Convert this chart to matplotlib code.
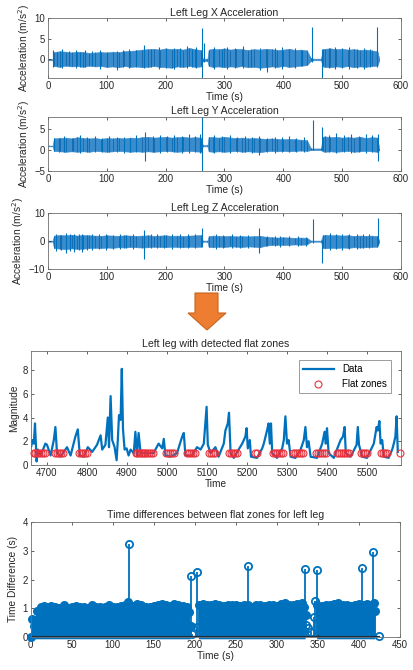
import numpy as np
import matplotlib
matplotlib.use("Agg")
import matplotlib.pyplot as plt
from matplotlib.patches import Polygon

# ---------------- data ----------------
# accelerometer envelopes (top three panels), time in s
acc_t = [0, 8, 10, 20, 30, 40, 50, 60, 70, 80, 90, 100, 110, 120, 130, 140, 150, 160,
         170, 180, 190, 200, 210, 220, 230, 240, 250, 260, 263, 271, 273, 280, 290, 300,
         310, 320, 330, 340, 350, 360, 370, 380, 390, 400, 410, 420, 430, 440, 447, 451,
         464, 467, 470, 480, 490, 500, 510, 520, 530, 540, 550, 560, 563]

x_hi = [0.1, 0.1, 1.8, 2.0, 1.9, 1.7, 1.9, 1.8, 1.6, 1.7, 1.8, 1.7, 1.9, 1.8, 2.0, 2.1, 2.2, 2.4,
        2.5, 2.6, 2.4, 2.7, 2.5, 2.6, 2.4, 2.8, 2.5, 2.3, 0.2, 0.2, 2.4, 2.6, 2.5, 2.7,
        2.4, 2.6, 2.5, 2.3, 2.5, 2.4, 2.6, 2.5, 2.3, 2.4, 2.6, 2.3, 2.4, 2.2, 0.3, 0.2,
        0.2, 2.5, 2.6, 2.7, 2.5, 2.6, 2.4, 2.5, 2.3, 2.4, 2.2, 2.0, 0.2]
x_lo = [-0.2, -0.2, -1.6, -1.8, -1.5, -1.7, -1.6, -1.8, -1.5, -1.7, -1.6, -1.8, -1.7, -1.9, -1.6, -1.8, -1.7, -1.9,
        -1.8, -1.6, -1.8, -1.9, -2.0, -1.7, -1.8, -1.6, -1.8, -1.7, -0.4, -0.4, -1.6, -1.8, -1.7, -1.9,
        -1.7, -1.8, -1.6, -1.9, -1.8, -2.0, -1.9, -1.7, -1.8, -1.6, -1.8, -1.7, -1.5, -1.4, -0.3, -0.2,
        -0.2, -1.7, -1.8, -1.9, -1.7, -1.8, -1.6, -1.9, -1.7, -1.8, -1.6, -1.5, -0.2]
x_spk_t = [9, 15, 24, 35, 47, 55, 63, 75, 88, 100, 117, 128, 138, 150, 163, 175, 188, 200, 214, 225,
           236, 245, 252, 262, 266, 282, 295, 305, 318, 332, 345, 360, 373, 385, 398, 410, 420, 432,
           449, 465, 478, 488, 500, 512, 525, 537, 548, 560]
x_spk_hi = [2.3, 1.9, 2.6, 2.1, 2.4, 1.8, 2.2, 2.0, 2.3, 1.9, 2.0, 2.2, 2.6, 2.3, 3.4, 2.6, 3.0, 2.5, 2.9, 2.7,
            3.2, 2.6, 3.0, 7.6, 4.0, 3.1, 2.6, 3.0, 2.7, 3.2, 2.6, 2.8, 2.6, 2.9, 3.0, 2.5, 2.9, 2.4,
            8.0, 2.6, 2.8, 3.1, 2.7, 3.0, 2.6, 2.9, 2.5, 7.9]
x_spk_lo = [-1.8, -1.6, -2.0, -1.7, -2.1, -1.8, -1.9, -1.7, -2.2, -1.9, -2.6, -1.8, -2.0, -1.9, -2.1, -1.9, -2.2, -2.0, -2.3, -1.9,
            -2.1, -1.8, -2.0, -5.5, -0.5, -2.2, -1.9, -2.3, -2.0, -2.1, -1.9, -2.6, -3.0, -2.0, -2.2, -1.9, -2.0, -1.7,
            -0.5, -5.5, -2.0, -2.4, -2.0, -2.3, -2.0, -2.2, -1.8, -1.9]

y_hi = [1.1, 1.1, 2.8, 2.9, 3.0, 2.8, 3.1, 2.9, 2.8, 2.9, 2.7, 2.9, 2.8, 2.9, 2.8, 3.0, 2.9, 3.1,
        3.2, 3.0, 3.1, 3.2, 3.0, 3.1, 3.2, 3.0, 3.1, 3.0, 1.2, 1.2, 3.2, 3.1, 3.0, 3.2,
        3.0, 2.9, 3.0, 2.8, 2.9, 2.8, 2.7, 2.8, 2.7, 2.6, 2.7, 2.6, 2.5, 2.4, 0.4, 0.4,
        0.4, 3.2, 3.3, 3.1, 3.2, 3.0, 3.1, 3.0, 3.2, 2.9, 3.1, 3.0, 0.3]
y_lo = [0.9, 0.9, -0.2, -0.3, -0.4, -0.3, -0.4, -0.3, -0.4, -0.2, -0.3, -0.4, -0.3, -0.2, -0.3, -0.4, -0.3, -0.4,
        -0.3, -0.4, -0.3, -0.2, -0.3, -0.4, -0.3, -0.2, -0.3, -0.4, 0.9, 0.9, -0.3, -0.4, -0.3, -0.4,
        -0.3, -0.2, -0.4, -0.3, -0.4, -0.5, -0.3, -0.2, -0.3, -0.2, -0.3, -0.2, -0.1, -0.2, 0.0, 0.0,
        0.0, -0.3, -0.4, -0.3, -0.4, -0.3, -0.2, -0.4, -0.3, -0.2, -0.3, -0.4, 0.0]
y_spk_t = [10, 18, 28, 42, 55, 67, 80, 92, 104, 118, 130, 140, 150, 165, 178, 190, 203, 215, 228, 240,
           250, 258, 262, 283, 296, 310, 322, 335, 347, 359, 372, 385, 398, 410, 422, 435, 450, 465,
           478, 490, 503, 515, 528, 540, 550, 561]
y_spk_hi = [3.0, 2.9, 3.4, 3.0, 3.6, 3.1, 3.3, 3.0, 3.4, 3.1, 3.2, 3.0, 3.5, 4.4, 3.3, 3.7, 3.4, 3.6, 3.3, 3.8,
            3.4, 3.9, 8.0, 3.7, 3.3, 3.5, 3.2, 3.4, 3.1, 3.3, 3.0, 3.2, 3.1, 3.4, 2.9, 3.1, 7.2, 5.6,
            3.6, 4.0, 3.5, 3.8, 3.4, 3.9, 3.5, 3.8]
y_spk_lo = [-0.2, -0.4, -0.5, -0.3, -0.6, -0.4, -0.4, -0.5, -0.5, -0.4, -0.6, -0.4, -0.5, -2.6, -0.5, -0.6, -0.4, -0.5, -0.6, -0.7,
            -0.5, -0.6, -5.0, -0.6, -0.5, -0.7, -0.5, -0.5, -0.6, -1.2, -0.5, -0.6, -0.4, -0.5, -0.4, -0.4, 0.0, 0.0,
            -0.5, -0.6, -0.5, -0.7, -0.5, -0.6, -0.5, -2.6]

z_hi = [0.2, 0.2, 2.0, 2.2, 2.1, 2.3, 2.0, 2.2, 2.1, 2.0, 1.9, 2.1, 2.0, 1.9, 2.1, 2.0, 1.9, 2.0,
        2.1, 1.9, 2.0, 2.1, 1.9, 2.0, 1.8, 2.0, 2.1, 2.2, 0.2, 0.2, 1.8, 2.0, 1.9, 1.8,
        1.9, 1.7, 1.8, 1.7, 1.8, 1.9, 1.6, 1.4, 1.3, 1.4, 1.3, 1.2, 1.3, 1.2, 0.2, 0.2,
        0.2, 2.2, 2.3, 2.1, 2.2, 2.0, 2.1, 1.9, 2.0, 1.9, 2.0, 1.8, 0.2]
z_lo = [-0.2, -0.2, -2.5, -2.7, -2.9, -2.6, -2.8, -2.7, -2.5, -2.4, -2.5, -2.3, -2.4, -2.2, -2.3, -2.1, -2.2, -2.3,
        -2.2, -2.0, -2.1, -2.2, -2.0, -2.1, -2.2, -2.0, -2.1, -2.0, -0.2, -0.2, -2.1, -2.2, -2.0, -2.1,
        -1.9, -2.0, -2.1, -1.9, -2.0, -2.2, -1.6, -1.4, -1.3, -1.4, -1.3, -1.2, -1.3, -1.2, -0.2, -0.2,
        -0.2, -2.4, -2.6, -2.4, -2.5, -2.3, -2.4, -2.2, -2.3, -2.2, -2.1, -2.0, -0.2]
z_spk_t = [14, 22, 30, 38, 45, 52, 58, 66, 75, 86, 98, 110, 122, 133, 145, 163, 175, 185, 198, 210,
           224, 238, 250, 262, 285, 298, 312, 326, 340, 358, 372, 385, 395, 410, 425, 438, 450, 465,
           480, 490, 500, 512, 525, 535, 545, 561]
z_spk_hi = [2.6, 2.3, 2.8, 2.4, 2.4, 2.5, 2.7, 2.3, 2.5, 2.4, 2.6, 2.3, 2.4, 2.2, 2.5, 4.1, 2.4, 2.6, 2.3, 2.4,
            2.5, 2.7, 2.4, 4.9, 2.5, 2.3, 2.4, 2.2, 2.3, 4.9, 1.9, 1.8, 2.0, 1.7, 1.9, 1.6, 8.0, 0.5,
            2.8, 2.5, 2.6, 2.4, 2.7, 2.5, 2.5, 8.2]
z_spk_lo = [-3.5, -3.0, -4.1, -3.4, -3.8, -3.3, -4.0, -3.1, -3.2, -2.9, -3.0, -2.7, -2.8, -2.6, -2.7, -6.5, -2.5, -2.6, -2.4, -2.8,
            -2.5, -2.5, -2.4, -2.0, -2.7, -2.4, -2.6, -2.3, -2.4, -4.1, -1.9, -1.8, -2.0, -1.7, -1.8, -1.6, -0.5, -7.9,
            -3.2, -2.8, -3.0, -2.7, -2.8, -2.6, -2.6, -1.5]

# magnitude signal with flat zones (middle panel)
mag_t = [4660, 4664, 4667, 4670, 4674, 4677, 4684, 4696, 4700, 4709,
         4717, 4721, 4725, 4734, 4750, 4759, 4771, 4777, 4782, 4792,
         4802, 4813, 4825, 4834, 4838, 4846, 4852, 4855, 4859, 4863,
         4869, 4874, 4877, 4880, 4884, 4887, 4890, 4894, 4899, 4904,
         4909, 4917, 4921, 4925, 4929, 4934, 4950, 4967, 4971, 4979,
         4988, 4992, 4996, 5009, 5025, 5038, 5042, 5046, 5063, 5075,
         5084, 5092, 5099, 5102, 5109, 5121, 5129, 5142, 5146, 5152,
         5155, 5159, 5167, 5179, 5188, 5196, 5199, 5202, 5207, 5210,
         5225, 5238, 5242, 5250, 5254, 5257, 5260, 5263, 5275, 5288,
         5292, 5296, 5300, 5304, 5309, 5321, 5334, 5342, 5346, 5350,
         5354, 5359, 5375, 5388, 5394, 5397, 5400, 5404, 5417, 5427,
         5434, 5440, 5444, 5447, 5459, 5474, 5477, 5480, 5488, 5500,
         5517, 5524, 5527, 5531, 5534, 5538, 5542, 5554, 5563, 5567,
         5571, 5574, 5577]
mag_v = [1.5, 2.1, 1.8, 3.5, 0.3, 1.3, 0.8, 1.8, 1.7, 0.8,
         2.1, 3.2, 1.0, 0.7, 1.5, 0.8, 2.4, 3.0, 0.8, 0.7,
         1.5, 1.1, 1.7, 2.5, 1.3, 1.7, 4.0, 1.5, 5.8, 2.1,
         1.5, 0.4, 2.1, 4.2, 3.8, 8.1, 3.0, 1.3, 1.4, 0.8,
         1.3, 1.0, 2.8, 0.8, 2.7, 1.0, 1.0, 1.0, 1.3, 1.8,
         1.4, 2.2, 0.8, 0.7, 1.0, 2.4, 2.7, 0.8, 0.8, 1.5,
         1.3, 1.8, 4.9, 1.7, 1.0, 1.5, 0.7, 1.8, 2.9, 3.5,
         4.4, 1.0, 0.6, 1.3, 1.8, 2.4, 3.1, 1.4, 2.1, 0.7,
         0.6, 1.4, 1.8, 2.9, 3.5, 1.8, 3.5, 1.0, 0.6, 1.4,
         2.1, 4.1, 1.8, 2.1, 0.7, 0.6, 1.3, 2.1, 3.2, 1.5,
         2.0, 0.7, 0.6, 1.8, 2.8, 1.8, 3.1, 1.0, 0.6, 1.5,
         2.1, 2.4, 3.2, 1.0, 0.7, 1.7, 3.2, 1.7, 0.7, 0.6,
         1.8, 3.2, 2.9, 3.7, 1.8, 2.1, 0.7, 0.6, 1.3, 1.8,
         2.4, 4.1, 1.1]

flat_t = [4667, 4671, 4675, 4680, 4685, 4690, 4695,
          4721, 4726, 4731, 4736, 4741,
          4780, 4785, 4790, 4795, 4800,
          4922, 4926, 4930, 4934, 4938, 4942, 4946, 4950, 4955, 4960, 4965,
          4997, 5002, 5007, 5012, 5017,
          5051, 5056, 5061, 5066, 5071,
          5106, 5111, 5116, 5121,
          5156, 5161, 5166, 5171, 5176,
          5219, 5225,
          5264, 5269, 5274, 5279, 5284, 5289,
          5314, 5319, 5324, 5329, 5334, 5339,
          5372, 5377, 5382, 5387, 5392, 5397,
          5425, 5430, 5435, 5440, 5445, 5450, 5455,
          5486, 5491, 5496, 5501,
          5536, 5541, 5546, 5550,
          5583]
flat_v = [1.0, 1.0, 1.0, 1.0, 1.0, 1.0, 1.0,
          1.0, 1.0, 1.0, 1.0, 1.0,
          1.0, 1.0, 1.0, 1.0, 1.0,
          1.0, 1.0, 1.0, 1.0, 1.0, 1.0, 1.0, 1.0, 1.0, 1.0, 1.0,
          1.0, 1.0, 1.0, 1.0, 1.0,
          1.0, 1.0, 1.0, 1.0, 1.0,
          1.0, 1.0, 1.0, 1.0,
          1.0, 1.0, 1.0, 1.0, 1.0,
          1.0, 1.0,
          1.0, 1.0, 1.0, 1.0, 1.0, 1.0,
          1.0, 1.0, 1.0, 1.0, 1.0, 1.0,
          1.0, 1.0, 1.0, 1.0, 1.0, 1.0,
          1.0, 1.0, 1.0, 1.0, 1.0, 1.0, 1.0,
          1.0, 1.0, 1.0, 1.0,
          1.0, 1.0, 1.0, 1.0,
          1.0]

# time differences between flat zones (bottom panel)
block_t = [0, 2, 4, 6, 8, 12, 16, 20, 25, 30, 35, 40, 45, 50, 55, 60, 65, 70, 75, 80,
           85, 90, 95, 100, 105, 110, 115, 119, 125, 130, 135, 140, 145, 150, 155, 160, 165, 170,
           175, 180, 185, 190, 193, 195, 197,
           205, 210, 215, 220, 225, 230, 235, 240, 245, 250, 255, 260, 265, 270, 275, 280, 285,
           290, 295, 300, 305, 310, 315, 320, 325, 330, 333, 335, 337,
           349, 352, 355, 360, 365, 370, 375, 380, 385, 390, 395, 400, 405, 410, 415, 418, 420]
block_v = [0.0, 0.64, 0.4, 0.6, 0.9, 1.05, 1.08, 1.05, 1.07, 1.04, 1.02, 1.1, 1.0, 1.06, 1.08, 1.05, 1.03, 1.02, 1.1, 1.06,
           1.03, 1.05, 1.12, 1.06, 1.04, 1.08, 1.1, 1.22, 1.08, 1.15, 1.1, 1.06, 1.04, 1.08, 1.1, 1.15, 1.1, 1.08,
           1.16, 1.12, 1.08, 1.05, 0.87, 0.4, np.nan,
           1.1, 1.15, 1.12, 1.1, 1.15, 1.12, 1.08, 1.1, 1.13, 1.1, 1.08, 1.12, 1.1, 1.06, 1.12, 1.1, 1.08,
           1.12, 1.1, 1.08, 1.15, 1.2, 1.12, 1.1, 1.15, 1.18, 1.05, 0.76, np.nan,
           1.1, 1.05, 1.08, 1.12, 1.1, 1.15, 1.18, 1.12, 1.1, 1.08, 1.12, 1.15, 1.1, 1.16, 1.1, 1.2, 0.9]
gap_t = [197, 203, 336, 338, 341, 345, 346, 424]
gap_v = [0.1, 0.35, 0.41, 0.3, 0.18, 0.7, 1.25, 0.02]
peak_t = [120, 195, 202.7, 265.2, 334.1, 348.3, 403.9, 417.7]
peak_v = [3.25, 2.12, 2.27, 2.47, 2.36, 2.33, 2.40, 2.97]

# ---------------- figure ----------------
W, H = 414, 670
BLUE = '#0072BD'
BAND = '#3a8ccd'
TXT = '#262626'
TITLE_FS = 7.6
LABEL_FS = 7.3
TICK_FS = 6.9
plt.rcParams['font.family'] = ['Liberation Sans', 'DejaVu Sans']

fig = plt.figure(figsize=(W / 100, H / 100), dpi=100)


def px_axes(left, top, right, bottom):
    return fig.add_axes([left / W, 1 - bottom / H, (right - left) / W, (bottom - top) / H])


def style(ax):
    ax.tick_params(direction='in', length=2.5, width=0.5, top=True, right=True,
                   labelsize=TICK_FS, colors=TXT, pad=2)
    for s in ax.spines.values():
        s.set_color('#6e6e6e')
        s.set_linewidth(0.6)


acc_panels = [
    ('Left Leg X Acceleration', x_hi, x_lo, x_spk_t, x_spk_hi, x_spk_lo, (-4.5, 10), [0, 5, 10], (18.3, 78)),
    ('Left Leg Y Acceleration', y_hi, y_lo, y_spk_t, y_spk_hi, y_spk_lo, (-5, 8), [-5, 0, 5], (116.7, 171)),
    ('Left Leg Z Acceleration', z_hi, z_lo, z_spk_t, z_spk_hi, z_spk_lo, (-10, 10), [-10, 0, 10], (213.3, 269)),
]
for title, hi, lo, st, shi, slo, ylim, yt, (top, bot) in acc_panels:
    ax = px_axes(48, top, 401, bot)
    ax.fill_between(acc_t, lo, hi, color=BAND, lw=0.4, edgecolor=BAND)
    ax.vlines(acc_t, lo, hi, color='#0a62a6', lw=0.5)
    ax.vlines(st, slo, shi, color=BLUE, lw=0.8)
    ax.set_xlim(0, 600)
    ax.set_ylim(*ylim)
    ax.set_yticks(yt)
    ax.set_xticks(range(0, 601, 100))
    ax.set_title(title, fontsize=TITLE_FS, color=TXT, pad=2)
    ax.set_xlabel('Time (s)', fontsize=LABEL_FS, color=TXT, labelpad=1)
    ax.set_ylabel('Acceleration (m/s$^2$)', fontsize=LABEL_FS, color=TXT, labelpad=2)
    style(ax)

# orange down arrow between the two halves
arrow_px = [(195, 293), (218, 293), (218, 313), (226, 313), (207, 330), (188, 313), (195, 313)]
fig.add_artist(Polygon([(x / W, 1 - y / H) for x, y in arrow_px], closed=True,
                       transform=fig.transFigure, facecolor='#ED7D31', edgecolor='#c8651f', lw=0.8))

# middle: magnitude with flat zones
ax = px_axes(31, 351, 401, 465)
ax.plot(mag_t, mag_v, color=BLUE, lw=1.6, label='Data')
ax.plot(flat_t, flat_v, 'o', color='#e8313c', mfc='none', ms=5, mew=0.8, label='Flat zones', clip_on=False)
ax.set_xlim(4660, 5585)
ax.set_ylim(0, 9.6)
ax.set_yticks([0, 2, 4, 6, 8])
ax.set_xticks(range(4700, 5501, 100))
ax.set_title('Left leg with detected flat zones', fontsize=TITLE_FS, color=TXT, pad=3)
ax.set_xlabel('Time', fontsize=LABEL_FS, color=TXT, labelpad=1)
ax.set_ylabel('Magnitude', fontsize=LABEL_FS, color=TXT, labelpad=3)
style(ax)
leg = ax.legend(loc='upper right', fontsize=7, fancybox=False, framealpha=1,
                edgecolor='#8c8c8c', handlelength=3.2, borderpad=0.4, labelspacing=0.5,
                bbox_to_anchor=(0.985, 0.96))
leg.get_frame().set_linewidth(0.6)

# bottom: stem plot of time differences
ax = px_axes(30.7, 522, 400, 637)
ax.fill_between(block_t, -0.08, block_v, color=BLUE, lw=0, clip_on=False)
for xs, ys, face in ((block_t, block_v, BLUE), (gap_t, gap_v, 'none'), (peak_t, peak_v, 'none')):
    m, s, b = ax.stem(xs, ys, linefmt='-', markerfmt='o', basefmt=' ')
    plt.setp(s, color=BLUE, lw=1.3)
    plt.setp(m, color=BLUE, mfc=face, ms=5.2, mew=1.3, clip_on=False)
ax.axhline(0, xmin=0, xmax=425 / 450, color='#1b2f45', lw=1.6)
ax.set_xlim(0, 450)
ax.set_ylim(0, 4)
ax.set_xticks(range(0, 451, 50))
ax.set_yticks([0, 1, 2, 3, 4])
ax.set_title('Time differences between flat zones for left leg', fontsize=TITLE_FS, color=TXT, pad=3)
ax.set_xlabel('Time (s)', fontsize=LABEL_FS, color=TXT, labelpad=1)
ax.set_ylabel('Time Difference (s)', fontsize=LABEL_FS, color=TXT, labelpad=3)
style(ax)

fig.savefig('out.png', dpi=100)
